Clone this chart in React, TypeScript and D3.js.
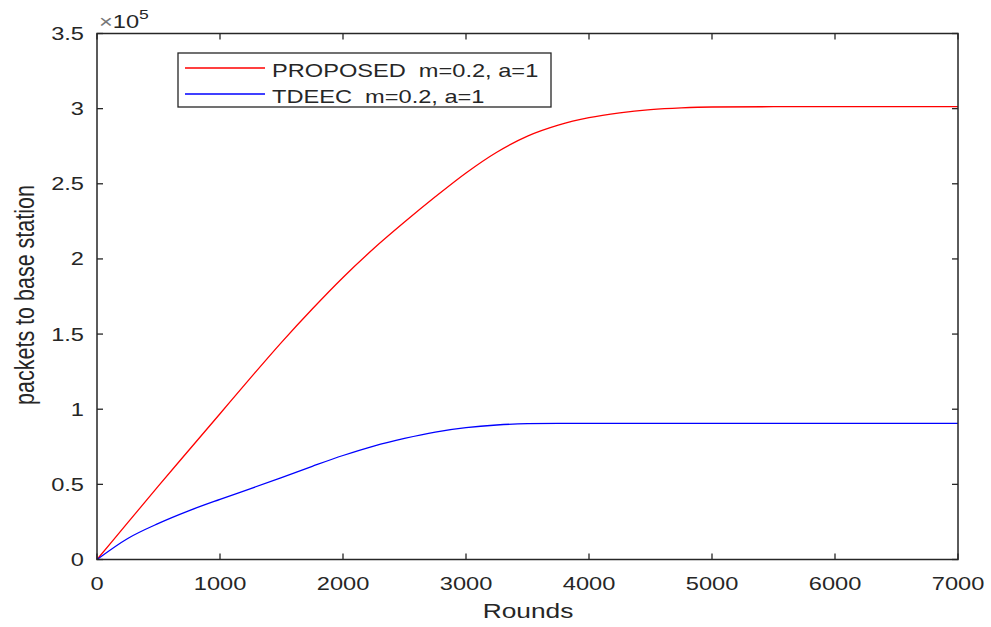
import React from "react";
import * as d3 from "d3";

const rounds = [0, 250, 500, 750, 1000, 1250, 1500, 1750, 2000, 2250, 2500, 2750, 3000, 3250, 3500, 3750, 4000, 4250, 4500, 4750, 5000, 5500, 6000, 6500, 7000];
const proposed = [0, 0.245, 0.49, 0.73, 0.97, 1.21, 1.445, 1.667, 1.877, 2.069, 2.245, 2.413, 2.572, 2.71, 2.817, 2.89, 2.94, 2.972, 2.993, 3.005, 3.011, 3.013, 3.013, 3.013, 3.013];
const tdeec = [0, 0.14, 0.24, 0.325, 0.4, 0.472, 0.545, 0.62, 0.692, 0.755, 0.806, 0.848, 0.877, 0.895, 0.904, 0.906, 0.906, 0.906, 0.906, 0.906, 0.906, 0.906, 0.906, 0.906, 0.906];
const xTicks = [0, 1000, 2000, 3000, 4000, 5000, 6000, 7000];
const yTicks = [0, 0.5, 1, 1.5, 2, 2.5, 3, 3.5];
const yTickLabels = ["0", "0.5", "1", "1.5", "2", "2.5", "3", "3.5"];
const seriesNames = ["PROPOSED  m=0.2, a=1", "TDEEC  m=0.2, a=1"];
const seriesColors = ["#ff0000", "#0000ff"];

const L = 97, R = 958, T = 33.5, B = 559.5;
const SX = 1.35;
const FONT = "Liberation Sans, Arial, sans-serif";
const AX = "#262626";

export default function App() {
  const x = d3.scaleLinear().domain([0, 7000]).range([L, R]);
  const y = d3.scaleLinear().domain([0, 3.5]).range([B, T]);
  const line = d3
    .line<number>()
    .x((_, i) => x(rounds[i]))
    .y((d) => y(d))
    .curve(d3.curveMonotoneX);
  const series = [proposed, tdeec];

  const st = (tx: number, ty: number) => `translate(${tx},${ty}) scale(${SX},1)`;

  return (
    <svg width={991} height={627} style={{ position: "absolute", left: 0, top: 0, background: "#fff" }}>
      <rect x={0} y={0} width={991} height={627} fill="#fff" />
      {series.map((s, k) => (
        <path key={k} d={line(s) || ""} fill="none" stroke={seriesColors[k]} strokeWidth={1.3} />
      ))}
      <rect x={L} y={T} width={R - L} height={B - T} fill="none" stroke={AX} strokeWidth={1.5} />
      {xTicks.map((t) => (
        <g key={"x" + t}>
          <line x1={x(t)} x2={x(t)} y1={B} y2={B - 6} stroke={AX} strokeWidth={1.3} />
          <line x1={x(t)} x2={x(t)} y1={T} y2={T + 6} stroke={AX} strokeWidth={1.3} />
          <text transform={st(x(t), 590)} textAnchor="middle" fontFamily={FONT} fontSize={17.5} fill={AX}>
            {t}
          </text>
        </g>
      ))}
      {yTicks.map((t, i) => (
        <g key={"y" + t}>
          <line x1={L} x2={L + 6} y1={y(t)} y2={y(t)} stroke={AX} strokeWidth={1.3} />
          <line x1={R} x2={R - 6} y1={y(t)} y2={y(t)} stroke={AX} strokeWidth={1.3} />
          <text transform={st(84, y(t) + 6.5)} textAnchor="end" fontFamily={FONT} fontSize={17.5} fill={AX}>
            {yTickLabels[i]}
          </text>
        </g>
      ))}
      <text transform={st(99, 28)} fontFamily={FONT} fontSize={17.5} fill={AX}>
        <tspan fill="#777">×</tspan>
        <tspan>10</tspan>
        <tspan dy={-9} fontSize={13}>5</tspan>
      </text>
      <text transform={st(528, 618)} textAnchor="middle" fontFamily={FONT} fontSize={19.5} fill={AX}>
        Rounds
      </text>
      <text
        transform={`translate(34,295) rotate(-90) scale(1,1.25)`}
        textAnchor="middle"
        fontFamily={FONT}
        fontSize={21.5}
        fill={AX}
      >
        packets to base station
      </text>
      <rect x={178} y={53} width={373} height={54} fill="#fff" stroke={AX} strokeWidth={1.3} />
      {seriesNames.map((n, k) => (
        <g key={n}>
          <line x1={185} x2={265} y1={68 + k * 26} y2={68 + k * 26} stroke={seriesColors[k]} strokeWidth={1.3} />
          <text transform={st(272, 77 + k * 25.5)} fontFamily={FONT} fontSize={17.5} fill={AX} style={{ whiteSpace: "pre" }}>
            {n}
          </text>
        </g>
      ))}
    </svg>
  );
}
